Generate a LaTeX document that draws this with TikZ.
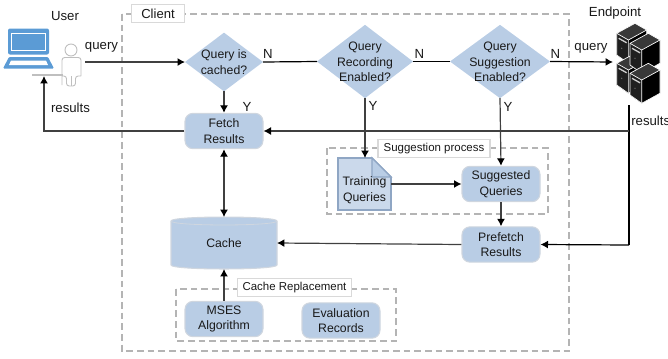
\documentclass[tikz,border=0pt]{standalone}
\usepackage{fontspec}
\setmainfont{Liberation Sans}
\usetikzlibrary{shapes.geometric,shapes.misc,arrows.meta,calc}
\definecolor{nodeblue}{HTML}{B9CDE5}
\definecolor{nodeedge}{HTML}{CFD6DF}
\definecolor{dashgray}{HTML}{B4B4B4}
\definecolor{linedark}{HTML}{404040}
\definecolor{laptopblue}{HTML}{5B9BD5}
\definecolor{docedge}{HTML}{8FA6C4}
\tikzset{
  x=0.75pt,y=-0.75pt,
  every node/.style={font=\fontsize{9.2}{11.6}\selectfont,text=black!90},
  proc/.style={draw=nodeedge,line width=0.8pt,fill=nodeblue,rounded corners=6pt,minimum width=58.5pt,minimum height=26.5pt,inner sep=0pt,align=center},
  dia/.style={draw=none,fill=nodeblue,diamond,inner sep=0pt,outer sep=0pt},
  txt/.style={inner sep=0pt,align=center},
  ltxt/.style={inner sep=0pt,align=center,font=\fontsize{9.9}{12}\selectfont},
  lab/.style={draw=black!15,line width=0.8pt,fill=white,inner sep=0pt,minimum height=14pt},
  group/.style={draw=dashgray,line width=0.8pt,dash pattern=on 5pt off 3pt},
  conn/.style={draw=linedark,line width=0.9pt,-{Latex[length=5.6pt,width=6pt,black]}},
  plain/.style={draw=linedark,line width=0.9pt},
  srv/.pic={
    \fill[black] (0,0)--(11.7,6.7)--(30,-3.3)--(30,20)--(11.7,30)--(0,21.7)--cycle;
    \fill[black!78] (0,0)--(18.3,-10)--(30,-3.3)--(11.7,6.7)--cycle;
    \fill[black!88] (0,0)--(11.7,6.7)--(11.7,30)--(0,21.7)--cycle;
    \draw[white,line width=0.5pt,line join=round] (0,0)--(18.3,-10)--(30,-3.3)--(30,20)--(11.7,30)--(0,21.7)--cycle;
    \draw[white,line width=0.5pt] (0,0)--(11.7,6.7)--(30,-3.3) (11.7,6.7)--(11.7,30);
    \draw[black!20,line width=1pt] (2,5)--(10,9.5);
    \fill[black!50] (5,15) circle (0.6);
  },
}
\begin{document}
\begin{tikzpicture}
\useasboundingbox (0,0) rectangle (668,358);
% groups
\draw[group] (122,14) rectangle (569,351);
\draw[group] (327,148) rectangle (548,214);
\draw[group] (176,289) rectangle (396,341);
\node[lab,minimum width=40pt,font=\fontsize{9.8}{12}\selectfont] (clientlab) at (158,13.5) {Client};
\node[lab,minimum width=84pt,font=\fontsize{8.6}{10}\selectfont] (sugglab) at (434,148.5) {Suggestion process};
\node[lab,minimum width=86pt,font=\fontsize{8.6}{10}\selectfont] (cachelab) at (294.5,287.5) {Cache Replacement};
% decisions
\node[dia,minimum width=58.5pt,minimum height=44pt] (d1) at (224,62) {};
\node[txt] (d1t) at (224,62) {Query is\\cached?};
\node[dia,minimum width=72pt,minimum height=55pt] (d2) at (365,61.5) {};
\node[txt] (d2t) at (365,62) {Query\\Recording\\Enabled?};
\node[dia,minimum width=75pt,minimum height=55pt] (d3) at (500,61.5) {};
\node[txt] (d3t) at (500,62) {Query\\Suggestion\\Enabled?};
% processes
\node[proc] (fetch) at (224,131) {Fetch\\Results};
\node[proc] (sugg) at (501,184) {Suggested\\Queries};
\node[proc] (pref) at (501,244.5) {Prefetch\\Results};
\node[proc] (mses) at (224,319) {MSES\\Algorithm};
\node[proc] (eval) at (341,320.5) {Evaluation\\Records};
% cache
\filldraw[fill=nodeblue,draw=nodeedge,line width=0.8pt] (171,221) .. controls (171,215.7) and (277,215.7) .. (277,221) -- (277,265) .. controls (277,270.3) and (171,270.3) .. (171,265) -- cycle;
\draw[draw=nodeedge,line width=0.6pt] (171,221) .. controls (171,226.3) and (277,226.3) .. (277,221);
\node[inner sep=0pt,outer sep=0pt,minimum width=79.5pt,minimum height=39pt] (cache) at (224,243) {Cache};
% document
\fill[fill=nodeblue!75!white,draw=docedge,line width=1.2pt,line join=miter] (338,158)--(372,158)--(391,177)--(391,210)--(338,210)--cycle;
\fill[nodeblue,draw=docedge,line width=1pt] (372,158)--(372,177)--(391,177)--cycle;
\node[txt] (train) at (364.5,190) {Training\\Queries};
\coordinate (trainout) at (391,184);
\coordinate (traintop) at (365,158);
% laptop
\node[draw=none,inner sep=0pt,minimum width=30.75pt,minimum height=19.5pt,rounded corners=1.5pt,fill=laptopblue] (lapscr) at (28.5,41.5) {};
\draw[white,line width=0.6pt] (11.5,33) rectangle (45.5,50.5);
\fill[laptopblue,rounded corners=0.8pt] (9,57)--(48,57)--(54,68.5)--(3,68.5)--cycle;
\fill[white] (11,60.5)--(46,60.5)--(48,65)--(9,65)--cycle;
% person
\draw[black!25,line width=0.7pt] (71,50) circle (6);
\draw[black!25,line width=0.7pt,rounded corners=2pt] (62,85)--(62,57.5)--(81,57.5)--(81,76) (81,76)--(75.5,76)--(75.5,86)--(66.5,86)--(66.5,76)--(62,76);
\draw[black!25,line width=0.5pt] (71,76)--(71,86);
\coordinate (userout) at (85,62);
\coordinate (userin) at (44,76);
\draw[black!25,line width=0.8pt] (32,75)--(63,75);
% servers
\pic at (616.7,33.3) {srv};
\pic at (616.7,63.3) {srv};
\pic at (630,43.3) {srv};
\pic at (630,73.3) {srv};
\coordinate (srvin) at (613,62);
\coordinate (srvout) at (629,105);
\coordinate (low) at (629,245);
\coordinate (mid) at (629,131);
% connectors
\draw[conn] (userout) -- (d1.west);
\draw[plain,black] (d1.east) -- (d2.west);
\draw[plain,black] (d2.east) -- (d3.west);
\draw[conn,black] (d3.east) -- (srvin);
\draw[conn] (d1.south) -- (fetch.north);
\draw[conn] (fetch.west) -| (userin);
\draw[plain,black] (srvout) -- (low);
\draw[conn] (mid) -- (fetch.east);
\draw[conn,black] (low) -- (pref.east);
\draw[conn,{Latex[length=5.6pt,width=6pt,black]}-{Latex[length=5.6pt,width=6pt,black]}] (fetch.south) -- (cache.north);
\draw[conn] (d2.south) -- (traintop);
\draw[conn] (d3.south) -- (sugg.north);
\draw[conn] (trainout) -- (sugg.west);
\draw[conn] (sugg.south) -- (pref.north);
\draw[conn] (pref.west) -- (cache.east);
\draw[conn] (mses.north) -- (cache.south);
% labels
\node[ltxt] (lu) at (65,16.5) {User};
\node[ltxt] (lq) at (101.5,47.5) {query};
\node[ltxt] (lr) at (70.5,107.5) {results};
\node[ltxt] (ln1) at (268,54) {N};
\node[ltxt] (ln2) at (419.5,54) {N};
\node[ltxt] (ln3) at (555.5,54) {N};
\node[ltxt] (ly1) at (247,107) {Y};
\node[ltxt] (ly2) at (373,106) {Y};
\node[ltxt] (ly3) at (508,107) {Y};
\node[ltxt] (lq2) at (591,48) {query};
\node[ltxt] (le) at (615,13) {Endpoint};
\node[ltxt,anchor=west] (lr2) at (631,120.5) {results};
\end{tikzpicture}
\end{document}
